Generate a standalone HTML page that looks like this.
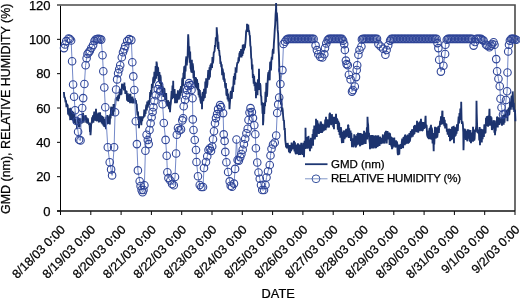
<!DOCTYPE html>
<html><head><meta charset="utf-8"><style>
html,body{margin:0;padding:0;background:#fff;width:520px;height:298px;overflow:hidden}
svg{display:block;font-family:"Liberation Sans",sans-serif;will-change:transform}
text{fill:#000;stroke:#000;stroke-width:0.25px}
</style></head><body>
<svg width="520" height="298" viewBox="0 0 520 298" shape-rendering="auto">
<rect width="520" height="298" fill="#fff"/>
<path d="M57 5H515V211" fill="none" stroke="#4a4a4a" stroke-width="1.6"/>
<path d="M60.5 5.8V215 M57 211.00H60.5 M57 176.67H60.5 M57 142.33H60.5 M57 108.00H60.5 M57 73.67H60.5 M57 39.33H60.5 M60.50 211V215 M90.80 211V215 M121.10 211V215 M151.40 211V215 M181.70 211V215 M212.00 211V215 M242.30 211V215 M272.60 211V215 M302.90 211V215 M333.20 211V215 M363.50 211V215 M393.80 211V215 M424.10 211V215 M454.40 211V215 M484.70 211V215 M515.00 211V215" fill="none" stroke="#000" stroke-width="1"/>
<path d="M57 211H515" fill="none" stroke="#111" stroke-width="1.5"/>
<polyline points="63.90,91.97 64.32,97.75 64.74,97.05 65.16,98.90 65.58,102.51 66.00,100.26 66.42,107.20 66.85,103.84 67.27,104.89 67.69,105.49 68.11,114.41 68.53,113.95 68.95,108.41 69.37,116.21 69.79,110.08 70.21,120.09 70.63,107.88 71.05,119.97 71.48,112.99 71.90,119.87 72.32,110.88 72.74,120.74 73.16,113.30 73.58,113.08 74.00,123.51 74.42,114.13 74.84,120.69 75.26,123.38 75.68,122.76 76.10,124.41 76.53,118.56 76.95,127.07 77.00,129.20 77.37,119.00 77.79,120.79 78.21,126.62 78.63,125.67 79.05,118.05 79.47,126.28 79.89,127.13 80.31,118.26 80.73,123.70 81.15,123.09 81.58,123.49 82.00,121.46 82.42,117.89 82.84,120.39 83.00,112.80 83.26,114.75 83.68,122.70 84.10,115.92 84.52,119.79 84.94,118.35 85.36,116.45 85.78,115.21 86.20,122.68 86.63,117.43 87.05,122.52 87.47,123.07 87.89,118.39 88.31,123.59 88.73,122.39 89.15,125.18 89.57,123.33 89.99,131.60 90.41,131.92 90.50,135.20 90.83,130.86 91.25,122.45 91.68,123.69 92.10,117.42 92.52,122.07 92.94,115.35 93.36,122.65 93.78,116.75 94.20,112.43 94.62,112.37 95.04,120.75 95.46,117.47 95.88,112.45 96.00,108.80 96.30,121.01 96.73,120.04 97.15,121.02 97.57,113.52 97.99,120.09 98.41,112.59 98.83,121.24 99.25,121.03 99.67,122.16 100.09,112.23 100.51,121.61 100.93,116.18 101.35,115.53 101.78,123.46 102.20,116.11 102.62,124.34 103.04,116.69 103.46,125.78 103.88,118.94 104.30,126.95 104.72,125.69 105.14,123.34 105.56,116.77 105.98,127.40 106.00,129.20 106.40,116.41 106.83,124.45 107.25,115.15 107.67,123.76 108.09,122.26 108.51,123.39 108.93,121.72 109.35,115.45 109.77,124.47 110.19,114.39 110.61,118.42 111.03,108.01 111.45,106.71 111.88,115.18 112.30,107.10 112.72,114.86 113.14,114.80 113.56,104.16 113.98,111.68 114.40,108.98 114.82,105.98 115.24,105.14 115.66,98.98 116.08,97.84 116.50,100.10 116.93,97.23 117.35,100.39 117.77,95.51 118.19,101.10 118.61,94.50 119.03,98.56 119.45,93.22 119.87,88.99 120.29,90.15 120.71,94.93 121.13,93.05 121.55,93.23 121.98,84.37 122.40,84.07 122.82,88.70 123.24,84.57 123.66,88.03 124.08,90.42 124.40,82.60 124.50,89.68 124.92,86.25 125.34,93.92 125.76,90.93 126.18,91.31 126.60,91.54 127.03,99.92 127.45,100.31 127.87,93.39 128.29,101.87 128.71,95.99 129.13,94.88 129.55,101.29 129.97,93.84 130.00,103.20 130.39,93.67 130.81,101.99 131.23,102.72 131.65,100.81 132.08,102.64 132.50,96.64 132.92,103.34 133.34,98.46 133.76,103.13 134.18,99.13 134.60,103.23 135.02,98.27 135.44,103.69 135.86,100.04 136.28,104.32 136.70,103.75 137.12,110.88 137.55,115.36 137.97,111.50 138.39,120.20 138.81,118.08 139.00,128.20 139.23,122.82 139.65,117.11 140.07,117.16 140.49,120.83 140.91,119.00 141.33,125.24 141.75,116.30 142.17,121.12 142.60,116.45 143.02,117.92 143.44,117.30 143.86,116.73 144.28,109.48 144.70,116.33 145.12,110.20 145.54,113.99 145.96,107.81 146.38,104.65 146.80,110.35 147.22,101.64 147.65,107.49 148.07,105.33 148.49,100.31 148.91,105.03 149.33,101.19 149.75,99.94 150.17,91.95 150.59,97.07 151.01,90.01 151.43,94.72 151.85,84.59 152.27,84.51 152.70,88.01 153.12,79.20 153.54,76.95 153.96,83.18 154.38,71.72 154.80,81.31 155.22,76.42 155.64,66.16 156.06,78.62 156.48,68.78 156.50,61.60 156.90,63.78 157.32,75.86 157.75,67.06 158.17,68.37 158.59,79.05 159.01,81.09 159.43,72.14 159.85,83.66 160.27,74.87 160.69,77.21 161.11,87.35 161.53,82.46 161.95,90.64 162.37,93.61 162.80,86.35 163.22,96.26 163.64,96.62 164.06,88.03 164.48,89.19 164.90,96.19 165.32,100.09 165.74,96.99 166.16,93.14 166.58,103.29 167.00,104.72 167.42,106.31 167.85,100.69 168.27,101.04 168.69,106.35 169.11,109.11 169.53,101.82 169.95,108.48 170.00,112.20 170.37,106.17 170.79,103.68 171.21,97.72 171.63,91.17 172.05,99.21 172.47,85.65 172.90,97.91 173.20,80.80 173.32,89.38 173.74,97.98 174.16,97.04 174.58,88.96 175.00,100.27 175.00,103.20 175.42,93.72 175.84,102.78 176.26,93.80 176.68,102.88 177.10,101.89 177.52,97.05 177.95,90.38 178.37,98.72 178.79,98.79 179.21,91.97 179.63,98.65 180.05,88.86 180.47,95.63 180.89,87.10 181.31,87.20 181.73,93.16 182.15,80.18 182.57,77.95 183.00,86.15 183.42,72.87 183.84,74.08 184.26,66.39 184.68,78.95 185.10,65.63 185.52,71.50 185.94,60.09 186.36,56.44 186.78,65.54 187.20,59.09 187.62,56.87 188.05,38.45 188.20,34.40 188.47,39.18 188.89,52.77 189.31,46.36 189.73,62.78 190.15,51.58 190.57,68.07 190.99,69.30 191.41,72.43 191.83,59.69 192.25,73.02 192.67,63.32 193.10,66.98 193.52,78.24 193.94,70.56 194.36,84.45 194.78,82.81 195.20,76.92 195.62,87.35 196.04,77.59 196.46,88.51 196.88,79.20 197.30,82.06 197.72,90.16 198.15,83.07 198.57,95.13 198.99,89.00 199.41,97.40 199.83,90.09 200.25,99.51 200.67,101.57 201.09,103.67 201.51,96.33 201.93,97.77 202.00,109.20 202.35,94.32 202.77,92.02 203.20,101.14 203.62,98.62 204.04,88.81 204.46,97.54 204.88,97.30 205.30,81.46 205.72,93.76 206.14,78.34 206.56,86.27 206.98,86.56 207.40,84.26 207.82,77.56 208.25,70.09 208.67,78.53 209.09,79.52 209.51,67.26 209.93,77.35 210.35,64.89 210.77,70.12 211.19,63.26 211.61,66.71 212.03,67.93 212.45,56.94 212.87,63.47 213.30,60.05 213.72,52.74 214.14,52.08 214.56,51.01 214.98,45.04 215.40,46.86 215.82,37.29 216.24,40.44 216.66,40.22 216.70,27.30 217.08,33.25 217.50,35.72 217.92,48.92 218.35,41.81 218.77,50.64 219.19,50.09 219.61,55.49 220.03,56.28 220.45,63.93 220.87,61.64 221.29,67.06 221.71,64.28 222.13,75.24 222.55,68.69 222.97,71.01 223.40,79.61 223.82,72.43 224.24,81.63 224.66,78.65 225.08,85.40 225.50,88.16 225.92,83.02 226.34,94.14 226.76,95.77 227.18,88.81 227.60,99.42 228.02,93.52 228.45,101.38 228.87,98.24 229.29,101.02 229.50,109.20 229.71,105.14 230.13,99.96 230.55,92.62 230.97,91.07 231.39,98.64 231.81,97.47 232.23,88.42 232.65,86.78 233.07,91.92 233.50,81.24 233.92,76.00 234.34,84.60 234.76,73.19 235.18,79.82 235.60,68.56 236.02,68.82 236.44,72.76 236.86,66.16 237.28,62.97 237.70,62.59 238.12,63.13 238.55,57.44 238.97,61.56 239.39,53.76 239.81,52.56 240.23,51.14 240.65,57.54 241.07,49.05 241.49,57.35 241.91,49.94 242.33,56.01 242.75,44.73 243.17,53.65 243.60,44.37 244.02,50.38 244.44,44.23 244.86,48.25 245.28,43.81 245.70,39.72 246.12,31.67 246.54,30.03 246.96,29.68 247.00,23.80 247.38,30.84 247.80,31.76 248.22,24.63 248.65,30.92 249.07,30.41 249.49,34.44 249.91,35.80 250.33,45.48 250.75,46.94 251.17,57.74 251.59,59.41 252.01,69.37 252.43,64.53 252.85,77.95 253.27,74.11 253.70,83.73 254.12,75.77 254.54,86.31 254.96,81.77 255.38,91.03 255.80,87.39 256.00,98.20 256.22,82.53 256.64,92.79 257.06,82.82 257.48,95.31 257.90,79.36 258.32,88.03 258.75,89.99 259.00,68.80 259.17,85.15 259.59,87.92 260.01,83.23 260.43,85.26 260.85,95.62 261.27,96.25 261.69,105.58 262.11,102.28 262.53,113.64 262.95,102.97 263.00,125.20 263.37,120.47 263.80,103.13 264.22,114.03 264.64,102.30 265.06,106.16 265.48,91.66 265.90,102.20 266.32,82.67 266.74,96.79 267.16,94.41 267.58,83.60 268.00,75.15 268.42,72.24 268.85,79.75 269.27,70.38 269.69,80.34 270.11,62.75 270.53,61.81 270.95,70.50 271.37,60.45 271.79,56.89 272.21,59.71 272.63,51.42 273.05,48.87 273.47,53.64 273.90,43.07 274.32,37.57 274.74,29.87 275.16,24.47 275.58,14.60 276.00,8.75 276.10,3.10 276.42,21.33 276.84,12.64 277.26,18.75 277.68,29.89 278.10,33.69 278.52,47.99 278.95,55.04 279.37,70.72 279.79,76.03 280.21,92.73 280.63,99.08 281.05,104.58 281.47,98.69 281.89,111.65 282.31,107.72 282.73,110.22 283.15,116.28 283.57,120.37 284.00,120.65 284.42,130.30 284.84,127.97 285.26,139.83 285.68,143.35 286.10,147.28 286.52,143.27 286.94,148.37 287.36,143.82 287.78,143.80 288.20,146.70 288.62,148.50 289.05,152.12 289.47,151.58 289.89,145.02 290.00,153.20 290.31,151.25 290.73,145.81 291.15,151.10 291.57,142.60 291.99,147.35 292.41,149.42 292.83,145.11 293.25,148.85 293.67,143.27 294.00,140.80 294.10,142.05 294.52,151.55 294.94,142.37 295.36,152.43 295.78,153.73 296.00,154.20 296.20,144.99 296.62,154.10 297.04,144.50 297.46,154.06 297.88,143.38 298.30,145.34 298.72,154.09 299.15,154.63 299.57,144.56 299.99,154.84 300.41,145.56 300.83,154.62 301.25,142.67 301.67,153.96 302.09,152.19 302.51,144.66 302.93,155.01 303.35,142.77 303.77,153.56 304.00,157.20 304.20,150.80 304.62,140.89 305.04,147.99 305.46,148.75 305.50,127.80 305.88,147.30 306.30,148.28 306.72,139.70 307.14,148.64 307.56,137.12 307.98,148.51 308.40,135.91 308.82,139.62 309.25,141.06 309.67,148.09 310.00,151.20 310.09,142.39 310.51,145.82 310.93,137.85 311.35,148.45 311.77,138.09 312.19,144.72 312.61,133.95 313.03,145.75 313.45,129.20 313.87,137.62 314.30,125.47 314.72,139.42 315.14,136.96 315.56,136.43 315.98,131.82 316.00,118.80 316.40,136.12 316.82,136.11 317.24,120.28 317.66,122.99 318.08,133.77 318.50,123.45 318.92,133.89 319.35,129.30 319.77,125.31 320.19,132.92 320.61,121.52 321.03,122.72 321.45,128.89 321.87,132.88 322.29,131.09 322.71,123.80 323.13,131.41 323.55,128.96 323.97,130.80 324.40,124.47 324.82,127.74 325.24,119.58 325.66,130.12 326.00,116.80 326.08,120.57 326.50,128.28 326.92,124.17 327.34,119.24 327.76,127.10 328.18,119.73 328.60,125.48 329.02,127.51 329.45,114.34 329.87,113.38 330.00,112.80 330.29,124.47 330.71,115.62 331.13,125.24 331.55,115.09 331.97,115.04 332.39,124.20 332.81,116.75 333.23,127.24 333.65,117.69 334.00,129.20 334.07,116.80 334.50,119.81 334.92,122.03 335.34,117.33 335.76,124.01 336.00,113.80 336.18,117.75 336.60,122.88 337.02,118.64 337.44,119.98 337.86,129.71 338.28,120.79 338.70,132.06 339.12,122.42 339.55,135.04 339.97,126.97 340.39,137.83 340.81,127.10 341.23,129.87 341.65,139.29 342.00,143.20 342.07,132.70 342.49,132.09 342.91,133.84 343.33,143.06 343.75,130.59 344.17,131.80 344.60,139.09 345.02,130.44 345.44,137.80 345.86,130.75 346.28,129.08 346.70,137.10 347.12,130.92 347.54,128.76 347.96,135.59 348.00,124.80 348.38,125.51 348.80,137.97 349.22,128.17 349.65,137.54 350.07,136.48 350.49,130.58 350.91,141.01 351.33,132.82 351.75,141.39 352.00,147.20 352.17,141.04 352.59,138.30 353.01,146.01 353.43,146.26 353.85,143.89 354.27,134.34 354.70,145.31 355.12,135.47 355.54,146.42 355.96,147.19 356.38,136.00 356.80,145.42 357.22,134.14 357.64,144.83 358.00,132.80 358.06,136.16 358.48,144.24 358.90,132.95 359.32,142.73 359.75,144.82 360.17,146.27 360.59,133.08 361.01,135.55 361.43,138.68 361.85,145.08 362.27,133.70 362.69,144.61 363.11,133.90 363.53,144.04 363.95,142.60 364.00,130.80 364.38,132.95 364.80,143.53 365.22,132.48 365.64,143.85 366.06,133.79 366.48,138.26 366.90,127.29 367.32,139.58 367.50,116.80 367.74,122.09 368.16,124.97 368.58,136.27 369.00,132.74 369.43,140.72 369.85,143.93 370.00,149.20 370.27,136.81 370.69,147.18 371.11,135.14 371.53,147.17 371.95,148.13 372.37,143.83 372.79,135.06 373.21,140.95 373.63,148.45 374.05,145.86 374.48,136.11 374.90,145.87 375.32,135.37 375.74,147.37 376.16,148.09 376.58,135.46 377.00,147.00 377.42,136.20 377.84,146.72 378.26,135.29 378.68,144.01 379.10,137.87 379.53,145.91 379.95,136.85 380.37,138.45 380.79,144.21 381.21,137.71 381.63,143.68 382.05,138.05 382.47,141.45 382.89,134.43 383.31,143.33 383.73,135.52 384.15,141.38 384.58,143.53 385.00,132.95 385.42,132.36 385.84,139.50 386.00,130.80 386.26,133.49 386.68,143.56 387.10,133.44 387.52,130.94 387.94,139.47 388.36,132.98 388.78,134.31 389.20,132.60 389.63,144.88 390.05,133.40 390.47,140.70 390.89,136.48 391.31,146.40 391.73,136.95 392.00,149.20 392.15,139.36 392.57,148.09 392.99,144.64 393.41,138.16 393.83,146.47 394.25,137.61 394.68,146.67 395.10,143.54 395.52,147.57 395.94,140.28 396.36,143.09 396.78,141.40 397.20,143.08 397.62,152.96 398.00,155.20 398.04,153.97 398.46,144.51 398.88,154.00 399.30,153.83 399.73,144.93 400.15,148.31 400.57,144.01 400.99,148.93 401.41,145.84 401.83,141.49 402.25,138.61 402.67,140.44 403.09,148.31 403.51,136.94 403.93,144.71 404.35,136.52 404.78,145.25 405.00,134.80 405.20,135.08 405.62,143.77 406.04,143.16 406.46,135.66 406.88,143.58 407.30,140.92 407.72,134.55 408.14,143.63 408.56,142.01 408.98,142.00 409.40,132.95 409.83,141.66 410.25,138.68 410.67,131.87 411.09,131.47 411.51,137.44 411.93,130.51 412.35,129.30 412.77,136.75 413.19,129.58 413.61,134.88 414.03,125.82 414.45,133.96 414.88,124.93 415.30,130.21 415.72,125.97 416.14,129.26 416.56,132.15 416.98,123.12 417.00,120.80 417.40,131.01 417.82,122.56 418.24,132.76 418.66,122.50 419.08,129.22 419.50,121.81 419.93,131.33 420.35,121.67 420.77,121.21 421.00,118.80 421.19,130.52 421.61,121.87 422.03,130.95 422.45,130.20 422.87,129.89 423.29,122.15 423.71,127.55 424.13,128.18 424.55,128.07 424.98,127.20 425.40,117.94 425.60,115.80 425.82,125.57 426.24,124.89 426.66,125.68 427.08,134.81 427.50,136.55 427.92,137.41 428.34,138.13 428.76,130.82 429.00,139.20 429.18,130.47 429.60,128.08 430.03,137.77 430.45,126.61 430.87,138.88 431.00,124.80 431.29,139.64 431.71,127.54 432.13,130.26 432.55,143.50 432.97,133.09 433.39,142.46 433.70,151.20 433.81,136.61 434.23,144.55 434.65,136.06 435.00,126.80 435.08,130.75 435.50,137.26 435.92,138.36 436.34,127.40 436.76,130.03 437.18,137.72 437.60,134.34 438.02,128.32 438.44,126.10 438.86,132.99 439.28,125.45 439.70,126.89 440.13,120.75 440.55,124.92 440.97,116.28 441.39,124.20 441.81,122.62 442.23,111.50 442.50,110.80 442.65,121.50 443.07,117.37 443.49,124.57 443.91,116.93 444.33,126.09 444.75,119.72 445.18,128.46 445.60,123.12 446.02,128.24 446.44,123.76 446.86,131.72 447.28,128.75 447.70,134.60 448.12,129.53 448.54,129.57 448.96,137.06 449.38,128.58 449.80,132.10 450.00,141.20 450.23,138.60 450.65,129.07 451.07,140.29 451.49,132.62 451.91,139.01 452.00,126.80 452.33,129.63 452.75,139.44 453.17,126.98 453.59,126.85 454.00,143.20 454.01,137.88 454.43,126.88 454.85,136.77 455.28,127.40 455.70,135.62 456.12,129.48 456.54,133.66 456.96,124.41 457.38,130.71 457.80,130.29 458.22,122.39 458.64,116.46 459.06,123.52 459.48,112.93 459.90,120.01 460.33,108.65 460.75,118.16 461.17,106.85 461.20,101.80 461.59,121.38 462.01,123.89 462.43,121.31 462.85,124.43 463.27,132.04 463.50,150.20 463.69,143.78 464.11,130.09 464.53,128.44 464.95,134.44 465.38,129.24 465.80,139.84 466.22,132.32 466.64,130.82 467.06,139.85 467.48,141.14 467.90,129.37 468.32,132.64 468.74,138.75 469.16,129.81 469.58,138.17 470.00,141.69 470.43,129.99 470.85,140.68 471.00,143.20 471.27,133.47 471.69,140.53 472.11,132.48 472.53,141.27 472.95,140.96 473.00,126.80 473.37,134.81 473.79,135.65 474.21,140.46 474.63,138.47 475.05,129.57 475.48,132.26 475.90,128.78 476.32,125.68 476.50,100.80 476.74,113.58 477.16,126.64 477.58,132.36 478.00,132.61 478.42,129.63 478.84,130.44 479.26,140.38 479.68,127.08 480.00,145.20 480.10,139.59 480.53,137.47 480.95,129.72 481.37,129.12 481.79,142.42 482.21,129.65 482.63,139.19 483.05,129.32 483.47,134.53 483.89,136.85 484.31,124.50 484.73,125.13 485.15,133.21 485.58,132.36 486.00,117.68 486.42,122.96 486.84,116.39 487.26,125.87 487.68,116.01 488.10,126.81 488.52,115.43 488.94,123.95 489.36,110.53 489.50,108.80 489.78,125.50 490.20,122.90 490.63,115.99 491.05,125.42 491.47,117.30 491.89,129.85 492.31,128.92 492.73,123.12 493.15,127.97 493.57,120.26 493.99,121.21 494.41,132.60 494.83,120.39 495.00,135.20 495.25,131.25 495.68,130.39 496.10,124.19 496.52,125.70 496.94,119.72 497.00,116.80 497.36,117.44 497.78,127.40 498.20,117.32 498.62,122.63 499.04,117.26 499.46,124.91 499.88,118.22 500.30,123.35 500.73,118.54 501.15,122.69 501.57,117.47 501.99,125.66 502.41,115.87 502.83,123.46 503.25,114.95 503.67,124.73 504.09,114.66 504.51,122.75 504.93,115.69 505.35,111.15 505.78,110.56 506.20,110.74 506.62,117.67 507.04,111.23 507.46,121.13 507.88,109.38 508.30,115.52 508.72,107.61 509.14,115.06 509.56,112.48 509.98,101.64 510.40,104.38 510.83,109.71 511.25,98.79 511.67,95.59 512.09,97.27 512.51,107.31 512.70,91.40 512.93,95.66 513.35,109.64 513.77,102.71 514.19,111.16 514.61,111.17 515.03,110.95 515.45,121.26" fill="none" stroke="#1c336e" stroke-width="1.85" stroke-linejoin="miter" stroke-miterlimit="2"/>
<polyline points="64.00,48.10 65.00,44.50 66.20,41.10 68.50,38.50 69.80,39.00 71.10,40.50 72.10,61.30 73.10,84.50 74.10,96.70 75.10,110.20 76.60,121.00 78.10,131.80 79.10,139.80 80.50,140.40 81.20,118.30 82.20,108.00 83.20,98.10 84.40,84.00 85.60,65.30 86.60,58.20 87.50,54.00 88.70,52.50 89.80,51.00 91.30,48.00 93.10,45.10 94.50,41.00 95.60,39.50 97.00,39.00 98.30,38.80 99.70,39.10 101.20,39.60 102.50,55.20 103.30,71.30 104.30,87.50 105.30,107.20 107.80,147.20 109.70,162.30 111.10,169.40 112.10,175.40 114.10,147.20 115.10,112.30 116.10,89.50 117.10,79.40 118.10,73.30 119.20,69.30 120.20,65.30 121.80,57.20 123.00,52.20 124.20,49.20 125.20,46.10 127.20,41.10 129.20,39.10 131.30,40.10 132.30,62.30 133.30,76.40 134.30,90.00 135.80,121.30 136.90,144.10 137.90,170.40 139.70,181.20 140.60,186.00 141.60,189.90 142.60,192.20 143.50,190.00 144.40,185.20 145.40,150.70 146.60,134.70 147.80,140.00 148.70,144.10 149.50,130.00 150.60,123.30 151.60,117.30 152.60,112.00 153.40,107.20 154.40,101.00 155.70,95.20 157.70,89.10 159.20,85.10 160.20,91.10 161.40,97.00 162.60,104.20 163.80,123.00 165.60,139.90 166.70,155.80 167.40,172.30 168.40,178.10 170.30,180.50 172.10,184.00 173.80,185.20 175.00,177.00 176.10,153.50 176.80,134.70 178.00,128.00 179.30,130.40 181.00,129.40 182.30,120.40 183.10,118.30 183.70,106.30 185.00,100.00 186.10,95.20 187.10,90.10 188.10,86.10 189.10,83.10 190.50,85.10 191.50,90.00 192.50,98.20 192.80,119.40 193.50,130.00 194.75,140.00 196.00,150.00 196.50,162.00 198.00,176.25 199.75,185.00 201.30,187.00 203.00,187.00 204.00,168.00 206.00,162.00 207.25,156.25 208.50,150.00 209.80,148.30 211.00,151.00 212.20,146.50 213.00,139.30 214.00,131.20 215.00,123.20 216.00,118.10 217.10,114.10 218.10,109.10 220.10,105.10 221.10,107.10 223.10,113.10 223.70,134.40 224.60,140.90 225.30,151.90 226.40,162.30 228.10,172.00 229.70,181.40 230.70,185.70 232.00,186.80 234.00,183.60 235.10,168.90 236.50,139.50 237.60,160.00 238.90,160.60 240.20,157.30 241.40,154.00 242.70,149.70 243.90,144.20 245.20,138.70 246.40,133.30 247.70,128.70 248.50,120.00 249.50,112.50 250.50,108.10 251.90,112.10 253.00,118.00 254.30,125.20 255.30,134.20 255.90,148.30 257.25,162.50 258.50,172.50 259.75,178.75 261.00,185.00 262.25,190.00 264.00,190.00 265.50,185.00 266.50,177.50 268.00,171.25 269.75,165.00 270.50,155.50 271.50,148.75 273.00,144.50 274.75,142.50 276.20,135.50 277.20,113.00 278.20,104.40 279.20,97.50 280.40,84.00 282.40,70.10 283.50,44.00 285.00,41.80 286.60,39.60 288.00,38.90 289.42,38.90 290.84,38.90 292.27,38.90 293.69,38.90 295.11,38.90 296.53,38.90 297.96,38.90 299.38,38.90 300.80,38.90 302.22,38.90 303.64,38.90 305.07,38.90 306.49,38.90 307.91,38.90 309.33,38.90 310.76,38.90 312.18,38.90 313.60,38.90 315.60,45.40 316.90,50.10 318.30,54.20 320.30,56.90 322.30,57.50 324.30,54.20 325.00,48.10 326.30,43.40 327.70,40.10 329.00,38.90 330.44,38.90 331.89,38.90 333.33,38.90 334.78,38.90 336.22,38.90 337.67,38.90 339.11,38.90 340.56,38.90 342.00,38.90 343.10,40.60 344.20,44.10 344.90,50.00 345.90,60.60 346.60,64.10 347.80,65.30 348.90,74.70 350.60,79.40 352.00,91.60 352.90,90.00 354.80,86.50 356.00,77.10 356.70,70.00 357.20,65.30 358.40,54.70 359.50,50.00 361.40,46.50 361.90,39.40 363.00,38.90 364.40,38.90 365.80,38.90 367.20,38.90 368.60,38.90 370.00,38.90 371.40,38.90 372.80,38.90 374.20,38.90 375.60,38.90 377.00,38.90 378.40,44.10 380.70,46.50 383.10,48.80 385.40,54.70 386.60,50.00 388.20,45.30 390.10,40.60 391.30,38.90 392.76,38.90 394.22,38.90 395.67,38.90 397.13,38.90 398.59,38.90 400.05,38.90 401.51,38.90 402.96,38.90 404.42,38.90 405.88,38.90 407.34,38.90 408.80,38.90 410.25,38.90 411.71,38.90 413.17,38.90 414.63,38.90 416.09,38.90 417.55,38.90 419.00,38.90 420.46,38.90 421.92,38.90 423.38,38.90 424.84,38.90 426.29,38.90 427.75,38.90 429.21,38.90 430.67,38.90 432.13,38.90 433.58,38.90 435.04,38.90 436.50,38.90 437.50,43.10 438.40,48.10 439.20,59.80 440.90,71.60 443.40,65.70 445.10,54.00 445.40,44.80 446.80,39.70 448.00,38.90 449.41,38.90 450.82,38.90 452.24,38.90 453.65,38.90 455.06,38.90 456.47,38.90 457.88,38.90 459.29,38.90 460.71,38.90 462.12,38.90 463.53,38.90 464.94,38.90 466.35,38.90 467.76,38.90 469.18,38.90 470.59,38.90 472.00,38.90 473.60,45.60 475.00,42.00 476.50,38.90 478.00,38.90 479.50,38.90 481.00,38.90 482.30,39.92 483.60,40.60 486.00,44.80 487.40,45.60 489.40,47.30 490.70,45.65 492.00,44.00 493.60,42.30 494.50,44.80 496.20,59.10 497.10,71.30 498.43,78.78 499.75,86.25 500.50,98.75 501.50,107.50 503.00,114.50 504.75,113.75 506.00,100.00 507.10,91.25 507.50,72.50 508.20,51.50 509.00,44.80 509.90,40.60 511.30,38.90 512.60,38.90 513.80,38.90 515.10,39.50 516.30,39.80" fill="none" stroke="#7489c9" stroke-width="1"/>
<g fill="none" stroke="#2f4598" stroke-width="1.1"><circle cx="64.00" cy="48.10" r="3.75"/><circle cx="65.00" cy="44.50" r="3.75"/><circle cx="66.20" cy="41.10" r="3.75"/><circle cx="68.50" cy="38.50" r="3.75"/><circle cx="69.80" cy="39.00" r="3.75"/><circle cx="71.10" cy="40.50" r="3.75"/><circle cx="72.10" cy="61.30" r="3.75"/><circle cx="73.10" cy="84.50" r="3.75"/><circle cx="74.10" cy="96.70" r="3.75"/><circle cx="75.10" cy="110.20" r="3.75"/><circle cx="76.60" cy="121.00" r="3.75"/><circle cx="78.10" cy="131.80" r="3.75"/><circle cx="79.10" cy="139.80" r="3.75"/><circle cx="80.50" cy="140.40" r="3.75"/><circle cx="81.20" cy="118.30" r="3.75"/><circle cx="82.20" cy="108.00" r="3.75"/><circle cx="83.20" cy="98.10" r="3.75"/><circle cx="84.40" cy="84.00" r="3.75"/><circle cx="85.60" cy="65.30" r="3.75"/><circle cx="86.60" cy="58.20" r="3.75"/><circle cx="87.50" cy="54.00" r="3.75"/><circle cx="88.70" cy="52.50" r="3.75"/><circle cx="89.80" cy="51.00" r="3.75"/><circle cx="91.30" cy="48.00" r="3.75"/><circle cx="93.10" cy="45.10" r="3.75"/><circle cx="94.50" cy="41.00" r="3.75"/><circle cx="95.60" cy="39.50" r="3.75"/><circle cx="97.00" cy="39.00" r="3.75"/><circle cx="98.30" cy="38.80" r="3.75"/><circle cx="99.70" cy="39.10" r="3.75"/><circle cx="101.20" cy="39.60" r="3.75"/><circle cx="102.50" cy="55.20" r="3.75"/><circle cx="103.30" cy="71.30" r="3.75"/><circle cx="104.30" cy="87.50" r="3.75"/><circle cx="105.30" cy="107.20" r="3.75"/><circle cx="107.80" cy="147.20" r="3.75"/><circle cx="109.70" cy="162.30" r="3.75"/><circle cx="111.10" cy="169.40" r="3.75"/><circle cx="112.10" cy="175.40" r="3.75"/><circle cx="114.10" cy="147.20" r="3.75"/><circle cx="115.10" cy="112.30" r="3.75"/><circle cx="116.10" cy="89.50" r="3.75"/><circle cx="117.10" cy="79.40" r="3.75"/><circle cx="118.10" cy="73.30" r="3.75"/><circle cx="119.20" cy="69.30" r="3.75"/><circle cx="120.20" cy="65.30" r="3.75"/><circle cx="121.80" cy="57.20" r="3.75"/><circle cx="123.00" cy="52.20" r="3.75"/><circle cx="124.20" cy="49.20" r="3.75"/><circle cx="125.20" cy="46.10" r="3.75"/><circle cx="127.20" cy="41.10" r="3.75"/><circle cx="129.20" cy="39.10" r="3.75"/><circle cx="131.30" cy="40.10" r="3.75"/><circle cx="132.30" cy="62.30" r="3.75"/><circle cx="133.30" cy="76.40" r="3.75"/><circle cx="134.30" cy="90.00" r="3.75"/><circle cx="135.80" cy="121.30" r="3.75"/><circle cx="136.90" cy="144.10" r="3.75"/><circle cx="137.90" cy="170.40" r="3.75"/><circle cx="139.70" cy="181.20" r="3.75"/><circle cx="140.60" cy="186.00" r="3.75"/><circle cx="141.60" cy="189.90" r="3.75"/><circle cx="142.60" cy="192.20" r="3.75"/><circle cx="143.50" cy="190.00" r="3.75"/><circle cx="144.40" cy="185.20" r="3.75"/><circle cx="145.40" cy="150.70" r="3.75"/><circle cx="146.60" cy="134.70" r="3.75"/><circle cx="147.80" cy="140.00" r="3.75"/><circle cx="148.70" cy="144.10" r="3.75"/><circle cx="149.50" cy="130.00" r="3.75"/><circle cx="150.60" cy="123.30" r="3.75"/><circle cx="151.60" cy="117.30" r="3.75"/><circle cx="152.60" cy="112.00" r="3.75"/><circle cx="153.40" cy="107.20" r="3.75"/><circle cx="154.40" cy="101.00" r="3.75"/><circle cx="155.70" cy="95.20" r="3.75"/><circle cx="157.70" cy="89.10" r="3.75"/><circle cx="159.20" cy="85.10" r="3.75"/><circle cx="160.20" cy="91.10" r="3.75"/><circle cx="161.40" cy="97.00" r="3.75"/><circle cx="162.60" cy="104.20" r="3.75"/><circle cx="163.80" cy="123.00" r="3.75"/><circle cx="165.60" cy="139.90" r="3.75"/><circle cx="166.70" cy="155.80" r="3.75"/><circle cx="167.40" cy="172.30" r="3.75"/><circle cx="168.40" cy="178.10" r="3.75"/><circle cx="170.30" cy="180.50" r="3.75"/><circle cx="172.10" cy="184.00" r="3.75"/><circle cx="173.80" cy="185.20" r="3.75"/><circle cx="175.00" cy="177.00" r="3.75"/><circle cx="176.10" cy="153.50" r="3.75"/><circle cx="176.80" cy="134.70" r="3.75"/><circle cx="178.00" cy="128.00" r="3.75"/><circle cx="179.30" cy="130.40" r="3.75"/><circle cx="181.00" cy="129.40" r="3.75"/><circle cx="182.30" cy="120.40" r="3.75"/><circle cx="183.10" cy="118.30" r="3.75"/><circle cx="183.70" cy="106.30" r="3.75"/><circle cx="185.00" cy="100.00" r="3.75"/><circle cx="186.10" cy="95.20" r="3.75"/><circle cx="187.10" cy="90.10" r="3.75"/><circle cx="188.10" cy="86.10" r="3.75"/><circle cx="189.10" cy="83.10" r="3.75"/><circle cx="190.50" cy="85.10" r="3.75"/><circle cx="191.50" cy="90.00" r="3.75"/><circle cx="192.50" cy="98.20" r="3.75"/><circle cx="192.80" cy="119.40" r="3.75"/><circle cx="193.50" cy="130.00" r="3.75"/><circle cx="194.75" cy="140.00" r="3.75"/><circle cx="196.00" cy="150.00" r="3.75"/><circle cx="196.50" cy="162.00" r="3.75"/><circle cx="198.00" cy="176.25" r="3.75"/><circle cx="199.75" cy="185.00" r="3.75"/><circle cx="201.30" cy="187.00" r="3.75"/><circle cx="203.00" cy="187.00" r="3.75"/><circle cx="204.00" cy="168.00" r="3.75"/><circle cx="206.00" cy="162.00" r="3.75"/><circle cx="207.25" cy="156.25" r="3.75"/><circle cx="208.50" cy="150.00" r="3.75"/><circle cx="209.80" cy="148.30" r="3.75"/><circle cx="211.00" cy="151.00" r="3.75"/><circle cx="212.20" cy="146.50" r="3.75"/><circle cx="213.00" cy="139.30" r="3.75"/><circle cx="214.00" cy="131.20" r="3.75"/><circle cx="215.00" cy="123.20" r="3.75"/><circle cx="216.00" cy="118.10" r="3.75"/><circle cx="217.10" cy="114.10" r="3.75"/><circle cx="218.10" cy="109.10" r="3.75"/><circle cx="220.10" cy="105.10" r="3.75"/><circle cx="221.10" cy="107.10" r="3.75"/><circle cx="223.10" cy="113.10" r="3.75"/><circle cx="223.70" cy="134.40" r="3.75"/><circle cx="224.60" cy="140.90" r="3.75"/><circle cx="225.30" cy="151.90" r="3.75"/><circle cx="226.40" cy="162.30" r="3.75"/><circle cx="228.10" cy="172.00" r="3.75"/><circle cx="229.70" cy="181.40" r="3.75"/><circle cx="230.70" cy="185.70" r="3.75"/><circle cx="232.00" cy="186.80" r="3.75"/><circle cx="234.00" cy="183.60" r="3.75"/><circle cx="235.10" cy="168.90" r="3.75"/><circle cx="236.50" cy="139.50" r="3.75"/><circle cx="237.60" cy="160.00" r="3.75"/><circle cx="238.90" cy="160.60" r="3.75"/><circle cx="240.20" cy="157.30" r="3.75"/><circle cx="241.40" cy="154.00" r="3.75"/><circle cx="242.70" cy="149.70" r="3.75"/><circle cx="243.90" cy="144.20" r="3.75"/><circle cx="245.20" cy="138.70" r="3.75"/><circle cx="246.40" cy="133.30" r="3.75"/><circle cx="247.70" cy="128.70" r="3.75"/><circle cx="248.50" cy="120.00" r="3.75"/><circle cx="249.50" cy="112.50" r="3.75"/><circle cx="250.50" cy="108.10" r="3.75"/><circle cx="251.90" cy="112.10" r="3.75"/><circle cx="253.00" cy="118.00" r="3.75"/><circle cx="254.30" cy="125.20" r="3.75"/><circle cx="255.30" cy="134.20" r="3.75"/><circle cx="255.90" cy="148.30" r="3.75"/><circle cx="257.25" cy="162.50" r="3.75"/><circle cx="258.50" cy="172.50" r="3.75"/><circle cx="259.75" cy="178.75" r="3.75"/><circle cx="261.00" cy="185.00" r="3.75"/><circle cx="262.25" cy="190.00" r="3.75"/><circle cx="264.00" cy="190.00" r="3.75"/><circle cx="265.50" cy="185.00" r="3.75"/><circle cx="266.50" cy="177.50" r="3.75"/><circle cx="268.00" cy="171.25" r="3.75"/><circle cx="269.75" cy="165.00" r="3.75"/><circle cx="270.50" cy="155.50" r="3.75"/><circle cx="271.50" cy="148.75" r="3.75"/><circle cx="273.00" cy="144.50" r="3.75"/><circle cx="274.75" cy="142.50" r="3.75"/><circle cx="276.20" cy="135.50" r="3.75"/><circle cx="277.20" cy="113.00" r="3.75"/><circle cx="278.20" cy="104.40" r="3.75"/><circle cx="279.20" cy="97.50" r="3.75"/><circle cx="280.40" cy="84.00" r="3.75"/><circle cx="282.40" cy="70.10" r="3.75"/><circle cx="283.50" cy="44.00" r="3.75"/><circle cx="285.00" cy="41.80" r="3.75"/><circle cx="286.60" cy="39.60" r="3.75"/><circle cx="288.00" cy="38.90" r="3.75"/><circle cx="289.42" cy="38.90" r="3.75"/><circle cx="290.84" cy="38.90" r="3.75"/><circle cx="292.27" cy="38.90" r="3.75"/><circle cx="293.69" cy="38.90" r="3.75"/><circle cx="295.11" cy="38.90" r="3.75"/><circle cx="296.53" cy="38.90" r="3.75"/><circle cx="297.96" cy="38.90" r="3.75"/><circle cx="299.38" cy="38.90" r="3.75"/><circle cx="300.80" cy="38.90" r="3.75"/><circle cx="302.22" cy="38.90" r="3.75"/><circle cx="303.64" cy="38.90" r="3.75"/><circle cx="305.07" cy="38.90" r="3.75"/><circle cx="306.49" cy="38.90" r="3.75"/><circle cx="307.91" cy="38.90" r="3.75"/><circle cx="309.33" cy="38.90" r="3.75"/><circle cx="310.76" cy="38.90" r="3.75"/><circle cx="312.18" cy="38.90" r="3.75"/><circle cx="313.60" cy="38.90" r="3.75"/><circle cx="315.60" cy="45.40" r="3.75"/><circle cx="316.90" cy="50.10" r="3.75"/><circle cx="318.30" cy="54.20" r="3.75"/><circle cx="320.30" cy="56.90" r="3.75"/><circle cx="322.30" cy="57.50" r="3.75"/><circle cx="324.30" cy="54.20" r="3.75"/><circle cx="325.00" cy="48.10" r="3.75"/><circle cx="326.30" cy="43.40" r="3.75"/><circle cx="327.70" cy="40.10" r="3.75"/><circle cx="329.00" cy="38.90" r="3.75"/><circle cx="330.44" cy="38.90" r="3.75"/><circle cx="331.89" cy="38.90" r="3.75"/><circle cx="333.33" cy="38.90" r="3.75"/><circle cx="334.78" cy="38.90" r="3.75"/><circle cx="336.22" cy="38.90" r="3.75"/><circle cx="337.67" cy="38.90" r="3.75"/><circle cx="339.11" cy="38.90" r="3.75"/><circle cx="340.56" cy="38.90" r="3.75"/><circle cx="342.00" cy="38.90" r="3.75"/><circle cx="343.10" cy="40.60" r="3.75"/><circle cx="344.20" cy="44.10" r="3.75"/><circle cx="344.90" cy="50.00" r="3.75"/><circle cx="345.90" cy="60.60" r="3.75"/><circle cx="346.60" cy="64.10" r="3.75"/><circle cx="347.80" cy="65.30" r="3.75"/><circle cx="348.90" cy="74.70" r="3.75"/><circle cx="350.60" cy="79.40" r="3.75"/><circle cx="352.00" cy="91.60" r="3.75"/><circle cx="352.90" cy="90.00" r="3.75"/><circle cx="354.80" cy="86.50" r="3.75"/><circle cx="356.00" cy="77.10" r="3.75"/><circle cx="356.70" cy="70.00" r="3.75"/><circle cx="357.20" cy="65.30" r="3.75"/><circle cx="358.40" cy="54.70" r="3.75"/><circle cx="359.50" cy="50.00" r="3.75"/><circle cx="361.40" cy="46.50" r="3.75"/><circle cx="361.90" cy="39.40" r="3.75"/><circle cx="363.00" cy="38.90" r="3.75"/><circle cx="364.40" cy="38.90" r="3.75"/><circle cx="365.80" cy="38.90" r="3.75"/><circle cx="367.20" cy="38.90" r="3.75"/><circle cx="368.60" cy="38.90" r="3.75"/><circle cx="370.00" cy="38.90" r="3.75"/><circle cx="371.40" cy="38.90" r="3.75"/><circle cx="372.80" cy="38.90" r="3.75"/><circle cx="374.20" cy="38.90" r="3.75"/><circle cx="375.60" cy="38.90" r="3.75"/><circle cx="377.00" cy="38.90" r="3.75"/><circle cx="378.40" cy="44.10" r="3.75"/><circle cx="380.70" cy="46.50" r="3.75"/><circle cx="383.10" cy="48.80" r="3.75"/><circle cx="385.40" cy="54.70" r="3.75"/><circle cx="386.60" cy="50.00" r="3.75"/><circle cx="388.20" cy="45.30" r="3.75"/><circle cx="390.10" cy="40.60" r="3.75"/><circle cx="391.30" cy="38.90" r="3.75"/><circle cx="392.76" cy="38.90" r="3.75"/><circle cx="394.22" cy="38.90" r="3.75"/><circle cx="395.67" cy="38.90" r="3.75"/><circle cx="397.13" cy="38.90" r="3.75"/><circle cx="398.59" cy="38.90" r="3.75"/><circle cx="400.05" cy="38.90" r="3.75"/><circle cx="401.51" cy="38.90" r="3.75"/><circle cx="402.96" cy="38.90" r="3.75"/><circle cx="404.42" cy="38.90" r="3.75"/><circle cx="405.88" cy="38.90" r="3.75"/><circle cx="407.34" cy="38.90" r="3.75"/><circle cx="408.80" cy="38.90" r="3.75"/><circle cx="410.25" cy="38.90" r="3.75"/><circle cx="411.71" cy="38.90" r="3.75"/><circle cx="413.17" cy="38.90" r="3.75"/><circle cx="414.63" cy="38.90" r="3.75"/><circle cx="416.09" cy="38.90" r="3.75"/><circle cx="417.55" cy="38.90" r="3.75"/><circle cx="419.00" cy="38.90" r="3.75"/><circle cx="420.46" cy="38.90" r="3.75"/><circle cx="421.92" cy="38.90" r="3.75"/><circle cx="423.38" cy="38.90" r="3.75"/><circle cx="424.84" cy="38.90" r="3.75"/><circle cx="426.29" cy="38.90" r="3.75"/><circle cx="427.75" cy="38.90" r="3.75"/><circle cx="429.21" cy="38.90" r="3.75"/><circle cx="430.67" cy="38.90" r="3.75"/><circle cx="432.13" cy="38.90" r="3.75"/><circle cx="433.58" cy="38.90" r="3.75"/><circle cx="435.04" cy="38.90" r="3.75"/><circle cx="436.50" cy="38.90" r="3.75"/><circle cx="437.50" cy="43.10" r="3.75"/><circle cx="438.40" cy="48.10" r="3.75"/><circle cx="439.20" cy="59.80" r="3.75"/><circle cx="440.90" cy="71.60" r="3.75"/><circle cx="443.40" cy="65.70" r="3.75"/><circle cx="445.10" cy="54.00" r="3.75"/><circle cx="445.40" cy="44.80" r="3.75"/><circle cx="446.80" cy="39.70" r="3.75"/><circle cx="448.00" cy="38.90" r="3.75"/><circle cx="449.41" cy="38.90" r="3.75"/><circle cx="450.82" cy="38.90" r="3.75"/><circle cx="452.24" cy="38.90" r="3.75"/><circle cx="453.65" cy="38.90" r="3.75"/><circle cx="455.06" cy="38.90" r="3.75"/><circle cx="456.47" cy="38.90" r="3.75"/><circle cx="457.88" cy="38.90" r="3.75"/><circle cx="459.29" cy="38.90" r="3.75"/><circle cx="460.71" cy="38.90" r="3.75"/><circle cx="462.12" cy="38.90" r="3.75"/><circle cx="463.53" cy="38.90" r="3.75"/><circle cx="464.94" cy="38.90" r="3.75"/><circle cx="466.35" cy="38.90" r="3.75"/><circle cx="467.76" cy="38.90" r="3.75"/><circle cx="469.18" cy="38.90" r="3.75"/><circle cx="470.59" cy="38.90" r="3.75"/><circle cx="472.00" cy="38.90" r="3.75"/><circle cx="473.60" cy="45.60" r="3.75"/><circle cx="475.00" cy="42.00" r="3.75"/><circle cx="476.50" cy="38.90" r="3.75"/><circle cx="478.00" cy="38.90" r="3.75"/><circle cx="479.50" cy="38.90" r="3.75"/><circle cx="481.00" cy="38.90" r="3.75"/><circle cx="482.30" cy="39.92" r="3.75"/><circle cx="483.60" cy="40.60" r="3.75"/><circle cx="486.00" cy="44.80" r="3.75"/><circle cx="487.40" cy="45.60" r="3.75"/><circle cx="489.40" cy="47.30" r="3.75"/><circle cx="490.70" cy="45.65" r="3.75"/><circle cx="492.00" cy="44.00" r="3.75"/><circle cx="493.60" cy="42.30" r="3.75"/><circle cx="494.50" cy="44.80" r="3.75"/><circle cx="496.20" cy="59.10" r="3.75"/><circle cx="497.10" cy="71.30" r="3.75"/><circle cx="498.43" cy="78.78" r="3.75"/><circle cx="499.75" cy="86.25" r="3.75"/><circle cx="500.50" cy="98.75" r="3.75"/><circle cx="501.50" cy="107.50" r="3.75"/><circle cx="503.00" cy="114.50" r="3.75"/><circle cx="504.75" cy="113.75" r="3.75"/><circle cx="506.00" cy="100.00" r="3.75"/><circle cx="507.10" cy="91.25" r="3.75"/><circle cx="507.50" cy="72.50" r="3.75"/><circle cx="508.20" cy="51.50" r="3.75"/><circle cx="509.00" cy="44.80" r="3.75"/><circle cx="509.90" cy="40.60" r="3.75"/><circle cx="511.30" cy="38.90" r="3.75"/><circle cx="512.60" cy="38.90" r="3.75"/><circle cx="513.80" cy="38.90" r="3.75"/><circle cx="515.10" cy="39.50" r="3.75"/><circle cx="516.30" cy="39.80" r="3.75"/></g>
<text x="50.6" y="215.60" font-size="13" text-anchor="end">0</text>
<text x="50.6" y="181.27" font-size="13" text-anchor="end">20</text>
<text x="50.6" y="146.93" font-size="13" text-anchor="end">40</text>
<text x="50.6" y="112.60" font-size="13" text-anchor="end">60</text>
<text x="50.6" y="78.27" font-size="13" text-anchor="end">80</text>
<text x="50.6" y="43.93" font-size="13" text-anchor="end">100</text>
<text x="50.6" y="9.60" font-size="13" text-anchor="end">120</text>
<text transform="translate(63.10 227.6) rotate(-45)" font-size="12.4" text-anchor="end" y="4">8/18/03 0:00</text>
<text transform="translate(93.40 227.6) rotate(-45)" font-size="12.4" text-anchor="end" y="4">8/19/03 0:00</text>
<text transform="translate(123.70 227.6) rotate(-45)" font-size="12.4" text-anchor="end" y="4">8/20/03 0:00</text>
<text transform="translate(154.00 227.6) rotate(-45)" font-size="12.4" text-anchor="end" y="4">8/21/03 0:00</text>
<text transform="translate(184.30 227.6) rotate(-45)" font-size="12.4" text-anchor="end" y="4">8/22/03 0:00</text>
<text transform="translate(214.60 227.6) rotate(-45)" font-size="12.4" text-anchor="end" y="4">8/23/03 0:00</text>
<text transform="translate(244.90 227.6) rotate(-45)" font-size="12.4" text-anchor="end" y="4">8/24/03 0:00</text>
<text transform="translate(275.20 227.6) rotate(-45)" font-size="12.4" text-anchor="end" y="4">8/25/03 0:00</text>
<text transform="translate(305.50 227.6) rotate(-45)" font-size="12.4" text-anchor="end" y="4">8/26/03 0:00</text>
<text transform="translate(335.80 227.6) rotate(-45)" font-size="12.4" text-anchor="end" y="4">8/27/03 0:00</text>
<text transform="translate(366.10 227.6) rotate(-45)" font-size="12.4" text-anchor="end" y="4">8/28/03 0:00</text>
<text transform="translate(396.40 227.6) rotate(-45)" font-size="12.4" text-anchor="end" y="4">8/29/03 0:00</text>
<text transform="translate(426.70 227.6) rotate(-45)" font-size="12.4" text-anchor="end" y="4">8/30/03 0:00</text>
<text transform="translate(457.00 227.6) rotate(-45)" font-size="12.4" text-anchor="end" y="4">8/31/03 0:00</text>
<text transform="translate(487.30 227.6) rotate(-45)" font-size="12.4" text-anchor="end" y="4">9/1/03 0:00</text>
<text transform="translate(517.60 227.6) rotate(-45)" font-size="12.4" text-anchor="end" y="4">9/2/03 0:00</text>
<text transform="translate(10 108.8) rotate(-90)" font-size="12.45" text-anchor="middle">GMD (nm), RELATIVE HUMIDITY (%)</text>
<text x="278.2" y="298" font-size="12.8" text-anchor="middle">DATE</text>
<path d="M305 164.2H327.5" stroke="#1e3773" stroke-width="1.8"/>
<path d="M305 178.8H327.5" stroke="#7f96c8" stroke-width="1"/>
<circle cx="316" cy="178.8" r="3.9" fill="none" stroke="#3a55a0" stroke-width="1"/>
<text x="331" y="168.2" font-size="11.5">GMD (nm)</text>
<text x="331" y="182.3" font-size="11.5" letter-spacing="-0.22">RELATIVE HUMIDITY (%)</text>
</svg>
</body></html>
